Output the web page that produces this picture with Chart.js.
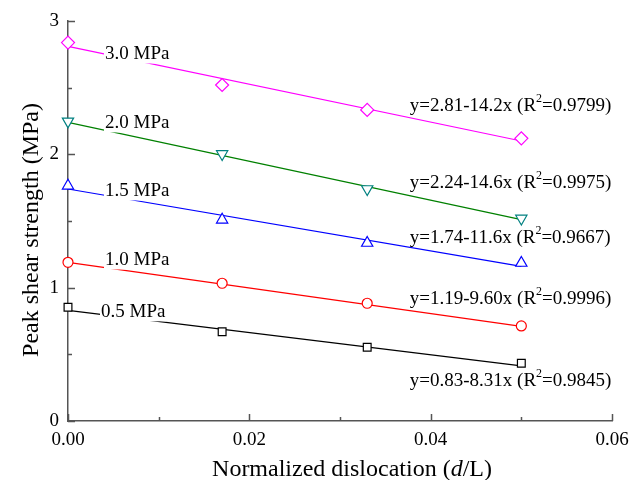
<!DOCTYPE html>
<html>
<head>
<meta charset="utf-8">
<script src="https://cdn.jsdelivr.net/npm/chart.js@4.4.1/dist/chart.umd.min.js"></script>
<style>
	html, body { margin: 0; padding: 0; background: #fff; }
	#wrap { width: 644px; height: 480px; }
</style>
</head>
<body>
<div id="wrap"><canvas id="chart" width="644" height="480"></canvas></div>
<script>
// normalized dislocation d/L
var xValues = [0, 0.017, 0.033, 0.05];
// peak shear strength (MPa) per normal stress
var peak05 = [0.853, 0.67, 0.553, 0.433];
var peak10 = [1.19, 1.033, 0.883, 0.713];
var peak15 = [1.764, 1.509, 1.335, 1.185];
var peak20 = [2.247, 2.003, 1.74, 1.519];
var peak30 = [2.838, 2.52, 2.333, 2.12];
// fitted lines, value at x=0 and x=0.05
var fitX = [0, 0.05];
var fitStart = [0.83, 1.19, 1.74, 2.24, 2.81];
var fitEnd = [0.414, 0.71, 1.16, 1.51, 2.10];
var stressLabels = ['0.5 MPa', '1.0 MPa', '1.5 MPa', '2.0 MPa', '3.0 MPa'];
var eqMain = ['y=0.83-8.31x (R', 'y=1.19-9.60x (R', 'y=1.74-11.6x (R', 'y=2.24-14.6x (R', 'y=2.81-14.2x (R'];
var eqR2 = ['=0.9845)', '=0.9996)', '=0.9667)', '=0.9975)', '=0.9799)'];
var yTicks = [0, 1, 2, 3];
var xTicks = [0, 0.02, 0.04, 0.06];

var lineColor = ['#000000', '#ff0000', '#0000ff', '#008000', '#ff00ff'];
var markColor = ['#000000', '#ff0000', '#0000ff', '#008080', '#ff00ff'];
var markStyle = ['rect', 'circle', 'triangle', 'triangle', 'rectRot'];
var markRadius = [5.5, 5, 6.5, 6.5, 6.5];
var markRotation = [0, 0, 0, 180, 0];
var serif = "'Liberation Serif', 'Times New Roman', serif";

// label anchors in data units (left edge, vertical middle)
var stressPos = [[0.00364, 0.826], [0.00408, 1.215], [0.00408, 1.733], [0.00408, 2.243], [0.00408, 2.76]];
var eqPos = [[0.0377, 0.308], [0.0377, 0.923], [0.0377, 1.38], [0.0377, 1.793], [0.0377, 2.37]];

var series = [peak05, peak10, peak15, peak20, peak30];
var datasets = [];
for (var i = 0; i < series.length; i++) {
	var pts = [];
	for (var j = 0; j < xValues.length; j++) pts.push({x: xValues[j], y: series[i][j]});
	datasets.push({
		type: 'scatter',
		data: pts,
		showLine: false,
		pointStyle: markStyle[i],
		pointRadius: markRadius[i],
		pointRotation: markRotation[i],
		pointBorderColor: markColor[i],
		pointBackgroundColor: '#ffffff',
		pointBorderWidth: 1.2,
		clip: false,
		order: 0
	});
	datasets.push({
		type: 'line',
		data: [{x: fitX[0], y: fitStart[i]}, {x: fitX[1], y: fitEnd[i]}],
		borderColor: lineColor[i],
		borderWidth: 1.2,
		pointRadius: 0,
		fill: false,
		clip: false,
		order: 1
	});
}

var decorPlugin = {
	id: 'decor',
	afterDatasetsDraw: function(chart) {
		var ctx = chart.ctx;
		var xs = chart.scales.x, ys = chart.scales.y;
		ctx.save();
		ctx.textBaseline = 'middle';
		ctx.textAlign = 'left';
		// stress labels with white backing over the fit lines
		ctx.font = '19px ' + serif;
		for (var i = 0; i < stressLabels.length; i++) {
			var px = xs.getPixelForValue(stressPos[i][0]);
			var py = ys.getPixelForValue(stressPos[i][1]);
			var w = ctx.measureText(stressLabels[i]).width;
			ctx.fillStyle = '#ffffff';
			ctx.fillRect(px - 1, py - 10.5, w + 2, 21);
			ctx.fillStyle = '#000000';
			ctx.fillText(stressLabels[i], px, py + 1);
		}
		// regression equations
		for (var k = 0; k < eqMain.length; k++) {
			var ex = xs.getPixelForValue(eqPos[k][0]);
			var ey = ys.getPixelForValue(eqPos[k][1]) + 1;
			ctx.fillStyle = '#000000';
			ctx.font = '19px ' + serif;
			ctx.fillText(eqMain[k], ex, ey);
			ex += ctx.measureText(eqMain[k]).width;
			ctx.font = '12px ' + serif;
			ctx.fillText('2', ex, ey - 7);
			ex += ctx.measureText('2').width;
			ctx.font = '19px ' + serif;
			ctx.fillText(eqR2[k], ex, ey);
		}
		ctx.restore();
	},
	afterDraw: function(chart) {
		var ctx = chart.ctx;
		var xs = chart.scales.x, ys = chart.scales.y;
		var area = chart.chartArea;
		ctx.save();
		// inward tick marks
		ctx.strokeStyle = '#555555';
		ctx.lineWidth = 1.5;
		ctx.beginPath();
		for (var v = 0; v <= 3.001; v += 0.5) {
			var py = Math.round(ys.getPixelForValue(v)) + 0.5;
			var len = (Math.abs(v - Math.round(v)) < 0.01) ? 7 : 4;
			ctx.moveTo(area.left, py);
			ctx.lineTo(area.left + len, py);
		}
		for (var u = 0; u <= 0.0601; u += 0.01) {
			var px = Math.round(xs.getPixelForValue(u)) + 0.5;
			var major = Math.abs(u / 0.02 - Math.round(u / 0.02)) < 0.01;
			ctx.moveTo(px, area.bottom);
			ctx.lineTo(px, area.bottom - (major ? 7 : 4));
		}
		ctx.stroke();
		// axis titles
		ctx.fillStyle = '#000000';
		ctx.textBaseline = 'alphabetic';
		var t1 = 'Normalized dislocation (', t2 = 'd', t3 = '/L)';
		ctx.font = '24px ' + serif;
		var w1 = ctx.measureText(t1).width, w3 = ctx.measureText(t3).width;
		ctx.font = 'italic 24px ' + serif;
		var w2 = ctx.measureText(t2).width;
		var sx = 352 - (w1 + w2 + w3) / 2, by = 476;
		ctx.font = '24px ' + serif;
		ctx.fillText(t1, sx, by);
		ctx.font = 'italic 24px ' + serif;
		ctx.fillText(t2, sx + w1, by);
		ctx.font = '24px ' + serif;
		ctx.fillText(t3, sx + w1 + w2, by);

		ctx.translate(38, (area.top + area.bottom) / 2 + 9);
		ctx.rotate(-Math.PI / 2);
		ctx.textAlign = 'center';
		ctx.fillText('Peak shear strength (MPa)', 0, 0);
		ctx.restore();
	}
};

var chartSet = new Chart(
	document.getElementById('chart'),
	{
		type: 'scatter',
		data: { datasets: datasets },
		options: {
			responsive: false,
			animation: false,
			devicePixelRatio: 1,
			layout: { padding: { left: 0, right: 32, top: 21, bottom: 0 } },
			scales: {
				x: {
					type: 'linear',
					min: 0,
					max: 0.06,
					afterFit: function(scale) { scale.height = 59; },
					afterBuildTicks: function(scale) {
						scale.ticks = xTicks.map(function(v) { return {value: v}; });
					},
					grid: { display: false, drawTicks: false, tickLength: 0 },
					border: { display: true, color: '#555555', width: 1.5 },
					ticks: {
						color: '#000000',
						padding: 8,
						font: { family: serif, size: 19 },
						callback: function(v) { return Number(v).toFixed(2); }
					}
				},
				y: {
					type: 'linear',
					min: 0,
					max: 3,
					afterFit: function(scale) { scale.width = 68; },
					afterBuildTicks: function(scale) {
						scale.ticks = yTicks.map(function(v) { return {value: v}; });
					},
					grid: { display: false, drawTicks: false, tickLength: 0 },
					border: { display: true, color: '#555555', width: 1.5 },
					ticks: {
						color: '#000000',
						padding: 9,
						font: { family: serif, size: 19 },
						callback: function(v) { return String(v); }
					}
				}
			},
			plugins: {
				legend: { display: false },
				tooltip: { enabled: false }
			}
		},
		plugins: [decorPlugin]
	}
);
</script>
</body>
</html>
